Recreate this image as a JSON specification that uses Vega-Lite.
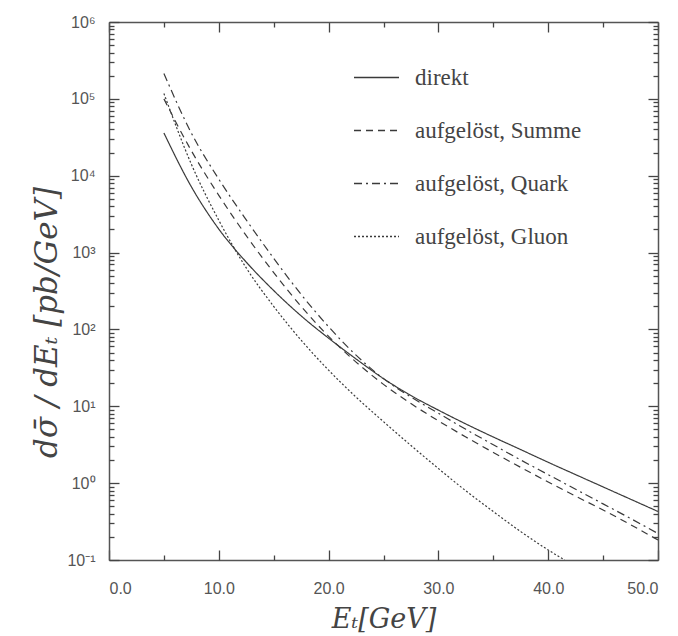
{
  "$schema": "https://vega.github.io/schema/vega-lite/v6.json",
  "width": 549,
  "height": 538,
  "autosize": {"type": "none"},
  "padding": {"left": 109, "top": 22, "right": 20, "bottom": 76},
  "background": "white",
  "data": {"values": [
    {"E": 5, "v": 36000, "s": "direkt"},
    {"E": 7.5, "v": 7180, "s": "direkt"},
    {"E": 10, "v": 2023, "s": "direkt"},
    {"E": 12.5, "v": 751.6, "s": "direkt"},
    {"E": 15, "v": 320.6, "s": "direkt"},
    {"E": 17.5, "v": 150.0, "s": "direkt"},
    {"E": 20, "v": 76.9, "s": "direkt"},
    {"E": 22.5, "v": 41.3, "s": "direkt"},
    {"E": 25, "v": 22.9, "s": "direkt"},
    {"E": 27.5, "v": 13.8, "s": "direkt"},
    {"E": 30, "v": 8.91, "s": "direkt"},
    {"E": 32.5, "v": 5.89, "s": "direkt"},
    {"E": 35, "v": 3.98, "s": "direkt"},
    {"E": 37.5, "v": 2.73, "s": "direkt"},
    {"E": 40, "v": 1.866, "s": "direkt"},
    {"E": 42.5, "v": 1.29, "s": "direkt"},
    {"E": 45, "v": 0.893, "s": "direkt"},
    {"E": 47.5, "v": 0.618, "s": "direkt"},
    {"E": 50, "v": 0.428, "s": "direkt"},
    {"E": 5, "v": 100000, "s": "aufgelöst, Summe"},
    {"E": 7.5, "v": 21135, "s": "aufgelöst, Summe"},
    {"E": 10, "v": 5559, "s": "aufgelöst, Summe"},
    {"E": 12.5, "v": 1660, "s": "aufgelöst, Summe"},
    {"E": 15, "v": 549.5, "s": "aufgelöst, Summe"},
    {"E": 17.5, "v": 199.5, "s": "aufgelöst, Summe"},
    {"E": 20, "v": 81.3, "s": "aufgelöst, Summe"},
    {"E": 22.5, "v": 37.6, "s": "aufgelöst, Summe"},
    {"E": 25, "v": 19.28, "s": "aufgelöst, Summe"},
    {"E": 27.5, "v": 10.84, "s": "aufgelöst, Summe"},
    {"E": 30, "v": 6.46, "s": "aufgelöst, Summe"},
    {"E": 32.5, "v": 3.98, "s": "aufgelöst, Summe"},
    {"E": 35, "v": 2.51, "s": "aufgelöst, Summe"},
    {"E": 37.5, "v": 1.603, "s": "aufgelöst, Summe"},
    {"E": 40, "v": 1.035, "s": "aufgelöst, Summe"},
    {"E": 42.5, "v": 0.676, "s": "aufgelöst, Summe"},
    {"E": 45, "v": 0.447, "s": "aufgelöst, Summe"},
    {"E": 47.5, "v": 0.288, "s": "aufgelöst, Summe"},
    {"E": 50, "v": 0.182, "s": "aufgelöst, Summe"},
    {"E": 5, "v": 213800, "s": "aufgelöst, Quark"},
    {"E": 7.5, "v": 35890, "s": "aufgelöst, Quark"},
    {"E": 10, "v": 9016, "s": "aufgelöst, Quark"},
    {"E": 12.5, "v": 2661, "s": "aufgelöst, Quark"},
    {"E": 15, "v": 841.4, "s": "aufgelöst, Quark"},
    {"E": 17.5, "v": 285.1, "s": "aufgelöst, Quark"},
    {"E": 20, "v": 108.4, "s": "aufgelöst, Quark"},
    {"E": 22.5, "v": 46.24, "s": "aufgelöst, Quark"},
    {"E": 25, "v": 22.9, "s": "aufgelöst, Quark"},
    {"E": 27.5, "v": 13.2, "s": "aufgelöst, Quark"},
    {"E": 30, "v": 8.13, "s": "aufgelöst, Quark"},
    {"E": 32.5, "v": 5.01, "s": "aufgelöst, Quark"},
    {"E": 35, "v": 3.16, "s": "aufgelöst, Quark"},
    {"E": 37.5, "v": 2.0, "s": "aufgelöst, Quark"},
    {"E": 40, "v": 1.29, "s": "aufgelöst, Quark"},
    {"E": 42.5, "v": 0.832, "s": "aufgelöst, Quark"},
    {"E": 45, "v": 0.537, "s": "aufgelöst, Quark"},
    {"E": 47.5, "v": 0.347, "s": "aufgelöst, Quark"},
    {"E": 50, "v": 0.221, "s": "aufgelöst, Quark"},
    {"E": 5, "v": 117500, "s": "aufgelöst, Gluon"},
    {"E": 7.5, "v": 14125, "s": "aufgelöst, Gluon"},
    {"E": 10, "v": 2630, "s": "aufgelöst, Gluon"},
    {"E": 12.5, "v": 631, "s": "aufgelöst, Gluon"},
    {"E": 15, "v": 199.5, "s": "aufgelöst, Gluon"},
    {"E": 17.5, "v": 72.4, "s": "aufgelöst, Gluon"},
    {"E": 20, "v": 29.5, "s": "aufgelöst, Gluon"},
    {"E": 22.5, "v": 13.18, "s": "aufgelöst, Gluon"},
    {"E": 25, "v": 6.31, "s": "aufgelöst, Gluon"},
    {"E": 27.5, "v": 3.09, "s": "aufgelöst, Gluon"},
    {"E": 30, "v": 1.549, "s": "aufgelöst, Gluon"},
    {"E": 32.5, "v": 0.794, "s": "aufgelöst, Gluon"},
    {"E": 35, "v": 0.427, "s": "aufgelöst, Gluon"},
    {"E": 37.5, "v": 0.234, "s": "aufgelöst, Gluon"},
    {"E": 40, "v": 0.135, "s": "aufgelöst, Gluon"},
    {"E": 41.5, "v": 0.1, "s": "aufgelöst, Gluon"}
  ]},
  "resolve": {"axis": {"x": "independent", "y": "independent"}},
  "config": {
    "view": {"stroke": null},
    "axis": {"grid": false, "tickColor": "#444", "domainColor": "#555", "domainWidth": 1.5, "tickWidth": 1.3}
  },
  "layer": [
    {
      "mark": {"type": "line", "interpolate": "monotone", "stroke": "#3a3a3a", "strokeWidth": 1.2, "clip": true},
      "encoding": {
        "x": {"field": "E", "type": "quantitative", "scale": {"domain": [0, 50], "nice": false},
          "axis": {"orient": "bottom", "values": [0, 10, 20, 30, 40, 50], "format": ".1f", "ticks": false, "labelPadding": 20,
            "labelFont": "Liberation Sans", "labelFontSize": 16, "labelColor": "#555",
            "title": "Eₜ[GeV]", "titleFont": "DejaVu Serif", "titleFontStyle": "italic", "titleFontWeight": "normal", "titleFontSize": 27, "titleColor": "#444", "titlePadding": 10}},
        "y": {"field": "v", "type": "quantitative", "scale": {"type": "log", "domain": [0.1, 1000000], "nice": false},
          "axis": {"orient": "left", "values": [0.1, 1, 10, 100, 1000, 10000, 100000, 1000000], "ticks": false, "labelPadding": 14,
            "labelExpr": "'10' + ['⁻¹','⁰','¹','²','³','⁴','⁵','⁶'][round(log(datum.value)/LN10)+1]",
            "labelFont": "Liberation Sans", "labelFontSize": 16, "labelColor": "#555",
            "title": "dσ̄ / dEₜ [pb/GeV]", "titleFont": "DejaVu Serif", "titleFontStyle": "italic", "titleFontWeight": "normal", "titleFontSize": 31, "titleColor": "#444", "titlePadding": 3, "titleY": 300}},
        "strokeDash": {"field": "s", "type": "nominal",
          "scale": {"domain": ["direkt", "aufgelöst, Summe", "aufgelöst, Quark", "aufgelöst, Gluon"],
                    "range": [[1, 0], [7, 5], [8, 4, 2, 4], [2, 2]]},
          "legend": {"title": null, "orient": "none", "legendX": 244, "legendY": 32, "symbolType": "stroke", "symbolSize": 2025,
            "symbolStrokeWidth": 1.3, "symbolStrokeColor": "#3a3a3a", "rowPadding": 17, "labelOffset": 15, "labelLimit": 400,
            "labelFont": "Liberation Serif", "labelFontSize": 23, "labelColor": "#444"}}
      }
    },
    {
      "mark": {"type": "point", "opacity": 0},
      "encoding": {
        "x": {"field": "E", "type": "quantitative", "axis": {"orient": "top", "offset": -538, "values": [0, 10, 20, 30, 40, 50], "tickSize": 10, "labels": false, "domain": false, "title": null}},
        "y": {"field": "v", "type": "quantitative", "axis": {"orient": "right", "offset": -549, "values": [0.1, 1, 10, 100, 1000, 10000, 100000, 1000000], "tickSize": 10, "labels": false, "domain": false, "title": null}}
      }
    },
    {
      "mark": {"type": "point", "opacity": 0},
      "encoding": {
        "x": {"field": "E", "type": "quantitative", "axis": {"orient": "top", "offset": -538, "values": [5, 15, 25, 35, 45], "tickSize": 5, "labels": false, "domain": false, "title": null}},
        "y": {"field": "v", "type": "quantitative", "axis": {"orient": "right", "offset": -549, "labels": false, "domain": false, "title": null, "tickSize": 5,
          "values": [0.2,0.3,0.4,0.5,0.6,0.7,0.8,0.9,2,3,4,5,6,7,8,9,20,30,40,50,60,70,80,90,200,300,400,500,600,700,800,900,2000,3000,4000,5000,6000,7000,8000,9000,20000,30000,40000,50000,60000,70000,80000,90000,200000,300000,400000,500000,600000,700000,800000,900000]}}
      }
    },
    {
      "mark": {"type": "point", "opacity": 0},
      "encoding": {
        "x": {"field": "E", "type": "quantitative", "axis": {"orient": "bottom", "offset": -538, "values": [0, 10, 20, 30, 40, 50], "tickSize": 10, "labels": false, "domain": true, "title": null}},
        "y": {"field": "v", "type": "quantitative", "axis": {"orient": "left", "offset": -549, "values": [0.1, 1, 10, 100, 1000, 10000, 100000, 1000000], "tickSize": 10, "labels": false, "domain": true, "title": null}}
      }
    },
    {
      "mark": {"type": "point", "opacity": 0},
      "encoding": {
        "x": {"field": "E", "type": "quantitative", "axis": {"orient": "bottom", "offset": -538, "values": [5, 15, 25, 35, 45], "tickSize": 5, "labels": false, "domain": false, "title": null}},
        "y": {"field": "v", "type": "quantitative", "axis": {"orient": "left", "offset": -549, "labels": false, "domain": false, "title": null, "tickSize": 5,
          "values": [0.2,0.3,0.4,0.5,0.6,0.7,0.8,0.9,2,3,4,5,6,7,8,9,20,30,40,50,60,70,80,90,200,300,400,500,600,700,800,900,2000,3000,4000,5000,6000,7000,8000,9000,20000,30000,40000,50000,60000,70000,80000,90000,200000,300000,400000,500000,600000,700000,800000,900000]}}
      }
    }
  ]
}
